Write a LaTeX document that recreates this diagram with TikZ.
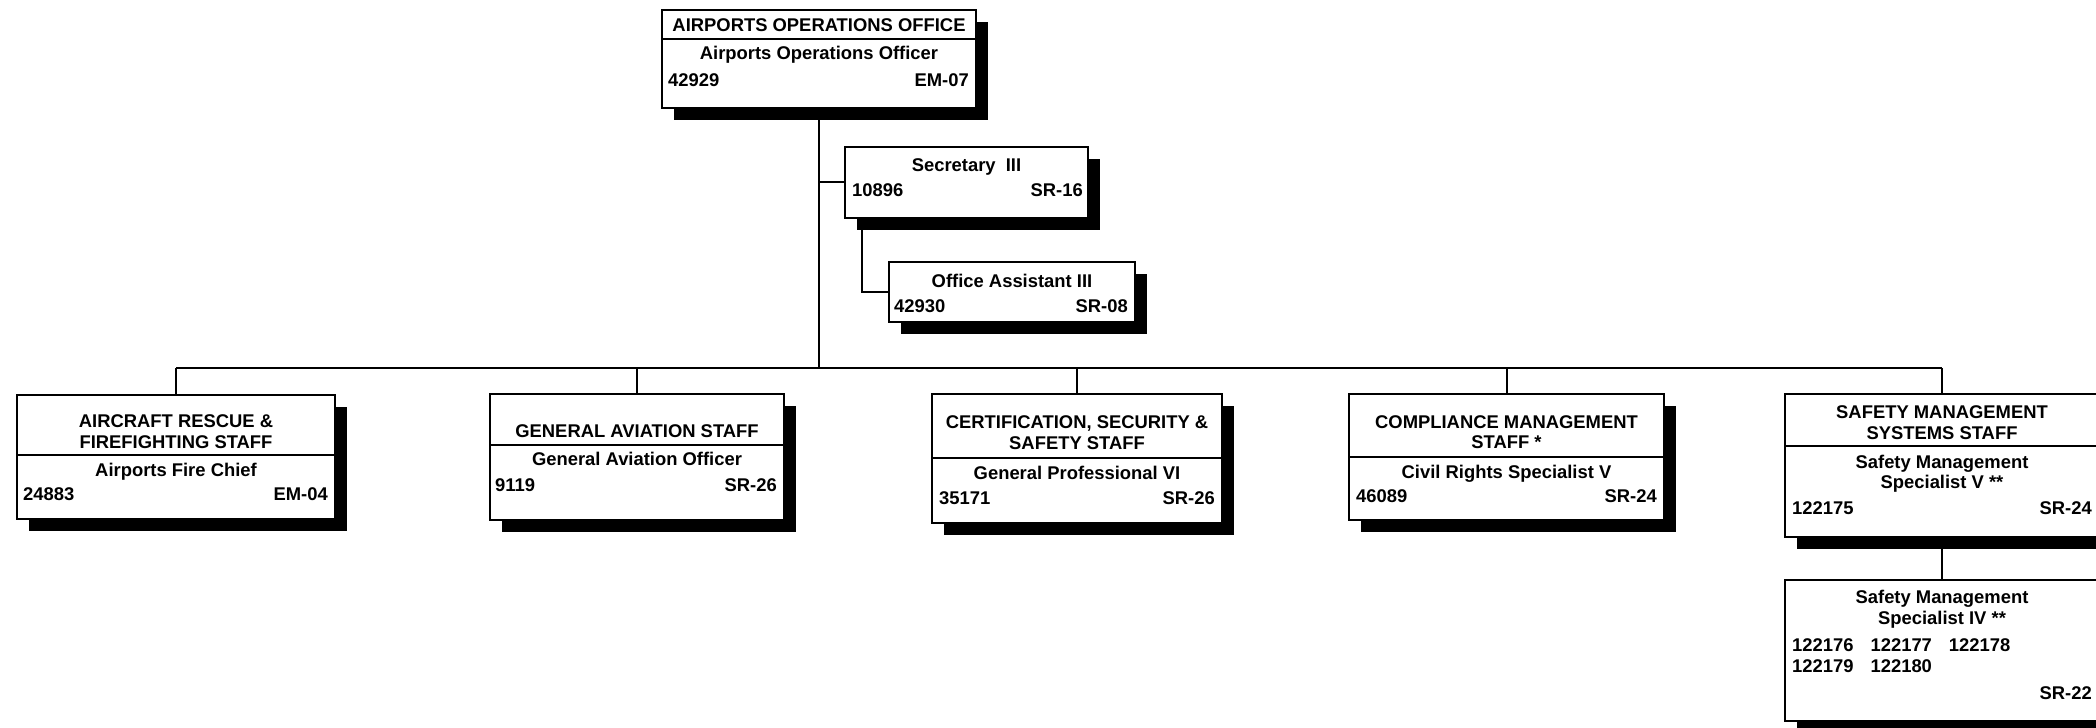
\documentclass[tikz,border=0pt]{standalone}
\usepackage{fontspec}
\setmainfont{Liberation Sans}
\usetikzlibrary{shadows}

\tikzset{
  unitbox/.style={draw, line width=2pt, fill=white, inner sep=0pt, outer sep=0pt,
                  drop shadow={shadow xshift=12pt, shadow yshift=-12pt, fill=black, opacity=1}},
  txt/.style={inner sep=0pt, font=\bfseries\fontsize{18.4}{21}\selectfont, text height=13.2pt, text depth=0pt},
  link/.style={line width=2pt}
}

\begin{document}
\begin{tikzpicture}[x=1pt, y=-1pt]

\useasboundingbox (0, 0) rectangle (2096, 728);

% draw the unit boxes
\node[unitbox, minimum width=314pt, minimum height=98pt]  (office)     at (819, 58.5)    {};
\node[unitbox, minimum width=243pt, minimum height=71pt]  (secretary)  at (966.5, 182)   {};
\node[unitbox, minimum width=246pt, minimum height=60pt]  (assistant)  at (1012, 292)    {};
\node[unitbox, minimum width=318pt, minimum height=124pt] (rescue)     at (176, 456.5)   {};
\node[unitbox, minimum width=294pt, minimum height=126pt] (aviation)   at (637, 457)     {};
\node[unitbox, minimum width=290pt, minimum height=129pt] (security)   at (1077, 458.5)  {};
\node[unitbox, minimum width=315pt, minimum height=126pt] (compliance) at (1506.5, 457)  {};
\node[unitbox, minimum width=314pt, minimum height=143pt] (safety)     at (1942, 465.5)  {};
\node[unitbox, minimum width=314pt, minimum height=141pt] (specialist) at (1942, 650.5)  {};

% draw header dividers
\draw[link] (office.west |- 0,39)      -- (office.east |- 0,39);
\draw[link] (rescue.west |- 0,455)     -- (rescue.east |- 0,455);
\draw[link] (aviation.west |- 0,445)   -- (aviation.east |- 0,445);
\draw[link] (security.west |- 0,458)   -- (security.east |- 0,458);
\draw[link] (compliance.west |- 0,457) -- (compliance.east |- 0,457);
\draw[link] (safety.west |- 0,446)     -- (safety.east |- 0,446);

% draw connectors
\coordinate (bar) at (819, 368);
\draw[link] (office.south) -- (bar);
\draw[link] (rescue.north |- bar) -- (safety.north |- bar);
\draw[link] (rescue.north)     -- (rescue.north |- bar);
\draw[link] (aviation.north)   -- (aviation.north |- bar);
\draw[link] (security.north)   -- (security.north |- bar);
\draw[link] (compliance.north) -- (compliance.north |- bar);
\draw[link] (safety.north)     -- (safety.north |- bar);
\draw[link] (office.south |- secretary.west) -- (secretary.west);
\draw[link] ([xshift=17pt]secretary.south west) |- (assistant.west);
\draw[link] (safety.south) -- (specialist.north);

% draw office texts
\node[txt] (office-title) at (819, 24.5) {AIRPORTS OPERATIONS OFFICE};
\node[txt] (office-job)   at (819, 53)   {Airports Operations Officer};
\node[txt, anchor=west] (office-id)    at (668, 80) {42929};
\node[txt, anchor=east] (office-grade) at (969, 80) {EM-07};

\node[txt] (secretary-job) at (966.5, 165) {Secretary\ \ III};
\node[txt, anchor=west] (secretary-id)    at (852, 190)  {10896};
\node[txt, anchor=east] (secretary-grade) at (1083, 190) {SR-16};

\node[txt] (assistant-job) at (1012, 281) {Office Assistant III};
\node[txt, anchor=west] (assistant-id)    at (894, 306)  {42930};
\node[txt, anchor=east] (assistant-grade) at (1128, 306) {SR-08};

% draw staff texts
\node[txt] (rescue-title1) at (176, 421) {AIRCRAFT RESCUE \&};
\node[txt] (rescue-title2) at (176, 442) {FIREFIGHTING STAFF};
\node[txt] (rescue-job)    at (176, 470) {Airports Fire Chief};
\node[txt, anchor=west] (rescue-id)    at (23, 494)  {24883};
\node[txt, anchor=east] (rescue-grade) at (328, 494) {EM-04};

\node[txt] (aviation-title) at (637, 431) {GENERAL AVIATION STAFF};
\node[txt] (aviation-job)   at (637, 459) {General Aviation Officer};
\node[txt, anchor=west] (aviation-id)    at (495, 485) {9119};
\node[txt, anchor=east] (aviation-grade) at (777, 485) {SR-26};

\node[txt] (security-title1) at (1077, 422) {CERTIFICATION, SECURITY \&};
\node[txt] (security-title2) at (1077, 443) {SAFETY STAFF};
\node[txt] (security-job)    at (1077, 473) {General Professional VI};
\node[txt, anchor=west] (security-id)    at (939, 498)  {35171};
\node[txt, anchor=east] (security-grade) at (1215, 498) {SR-26};

\node[txt] (compliance-title1) at (1506.5, 422) {COMPLIANCE MANAGEMENT};
\node[txt] (compliance-title2) at (1506.5, 442) {STAFF *};
\node[txt] (compliance-job)    at (1506.5, 472) {Civil Rights Specialist V};
\node[txt, anchor=west] (compliance-id)    at (1356, 496) {46089};
\node[txt, anchor=east] (compliance-grade) at (1657, 496) {SR-24};

\node[txt] (safety-title1) at (1942, 412) {SAFETY MANAGEMENT};
\node[txt] (safety-title2) at (1942, 433) {SYSTEMS STAFF};
\node[txt] (safety-job1)   at (1942, 462) {Safety Management};
\node[txt] (safety-job2)   at (1942, 482) {Specialist V **};
\node[txt, anchor=west] (safety-id)    at (1792, 508) {122175};
\node[txt, anchor=east] (safety-grade) at (2092, 508) {SR-24};

\node[txt] (specialist-job1) at (1942, 597) {Safety Management};
\node[txt] (specialist-job2) at (1942, 618) {Specialist IV **};
\node[txt, anchor=west] (specialist-ids1) at (1792, 645) {122176\hspace{17pt}122177\hspace{17pt}122178};
\node[txt, anchor=west] (specialist-ids2) at (1792, 666) {122179\hspace{17pt}122180};
\node[txt, anchor=east] (specialist-grade) at (2092, 693) {SR-22};

\end{tikzpicture}
\end{document}
